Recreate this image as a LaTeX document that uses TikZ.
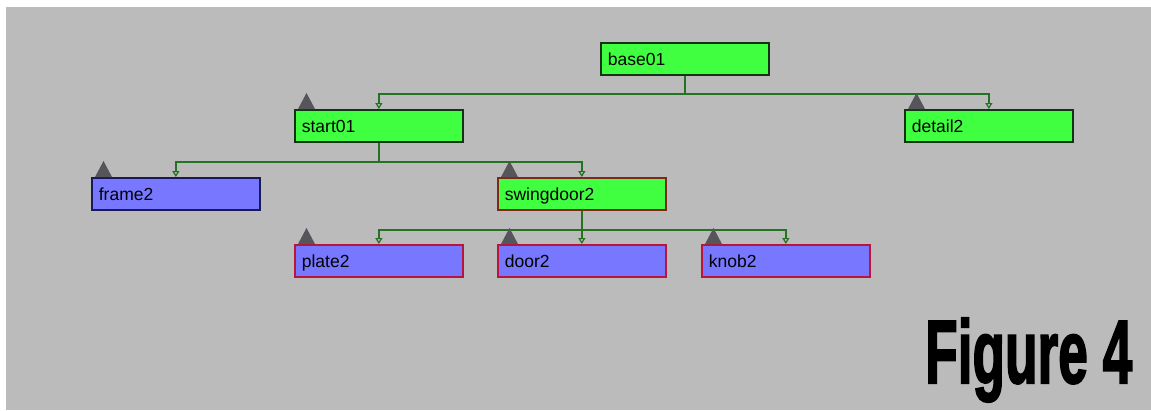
\documentclass[tikz,border=0pt]{standalone}
\usepackage{fontspec}
\setmainfont{Liberation Sans}
\newfontfamily\capfont[FakeBold=2.5]{Liberation Sans Bold}
\usetikzlibrary{arrows.meta}

\definecolor{canvas}{RGB}{187,187,187}
\definecolor{objgreen}{RGB}{64,255,64}
\definecolor{objblue}{RGB}{119,119,255}
\definecolor{linkgreen}{RGB}{35,115,35}
\definecolor{edgegreen}{RGB}{20,50,20}
\definecolor{edgenavy}{RGB}{25,25,85}
\definecolor{edgebrown}{RGB}{125,40,25}
\definecolor{edgecrimson}{RGB}{185,20,60}
\definecolor{marker}{RGB}{85,85,90}

\tikzset{
  objbox/.style={draw, line width=1.7pt, anchor=north west,
    minimum width=168pt, minimum height=32pt,
    text width=154pt, align=left, inner xsep=7pt, inner ysep=0pt,
    text height=13pt, text depth=0pt,
    font=\fontsize{17.5}{20}\selectfont},
  greenobj/.style={objbox, fill=objgreen, draw=edgegreen},
  blueobj/.style={objbox, fill=objblue},
  link/.style={draw=linkgreen, line width=1.7pt,
    -{Triangle[open, length=6pt, width=7pt, line width=1.2pt]}},
  markertri/.style={fill=marker}
}

\newcommand{\parentmark}[1]{%
  \fill[markertri] ([xshift=4pt]#1.north west) -- ++(17,0) -- ++(-8.5,-16) -- cycle;}

\begin{document}
\begin{tikzpicture}[x=1pt, y=-1pt]
  \useasboundingbox (0,0) rectangle (1151,410);
  \fill[white] (0,0) rectangle (1151,410);
  \fill[canvas] (6,7) rectangle (1151,410);

  % object tree
  \node[greenobj] (base01) at (600,42) {base01};
  \node[greenobj] (start01) at (294,109) {start01};
  \node[greenobj] (detail2) at (904,109) {detail2};
  \node[blueobj, draw=edgenavy] (frame2) at (91,177) {frame2};
  \node[greenobj, draw=edgebrown] (swingdoor2) at (497,177) {swingdoor2};
  \node[blueobj, draw=edgecrimson] (plate2) at (294,244) {plate2};
  \node[blueobj, draw=edgecrimson] (door2) at (497,244) {door2};
  \node[blueobj, draw=edgecrimson] (knob2) at (701,244) {knob2};

  % parent-child links
  \draw[link] (base01.south) -- ++(0,18) -| (start01.north);
  \draw[link] (base01.south) -- ++(0,18) -| (detail2.north);
  \draw[link] (start01.south) -- ++(0,19) -| (frame2.north);
  \draw[link] (start01.south) -- ++(0,19) -| (swingdoor2.north);
  \draw[link] (swingdoor2.south) -- ++(0,19) -| (plate2.north);
  \draw[link] (swingdoor2.south) -- ++(0,19) -| (door2.north);
  \draw[link] (swingdoor2.south) -- ++(0,19) -| (knob2.north);

  % markers on child objects
  \parentmark{start01}
  \parentmark{detail2}
  \parentmark{frame2}
  \parentmark{swingdoor2}
  \parentmark{plate2}
  \parentmark{door2}
  \parentmark{knob2}

  % caption
  \node[anchor=base west, inner sep=0pt] (caption) at (925,383)
    {\resizebox{207pt}{65pt}{\capfont Figure 4}};
\end{tikzpicture}
\end{document}
